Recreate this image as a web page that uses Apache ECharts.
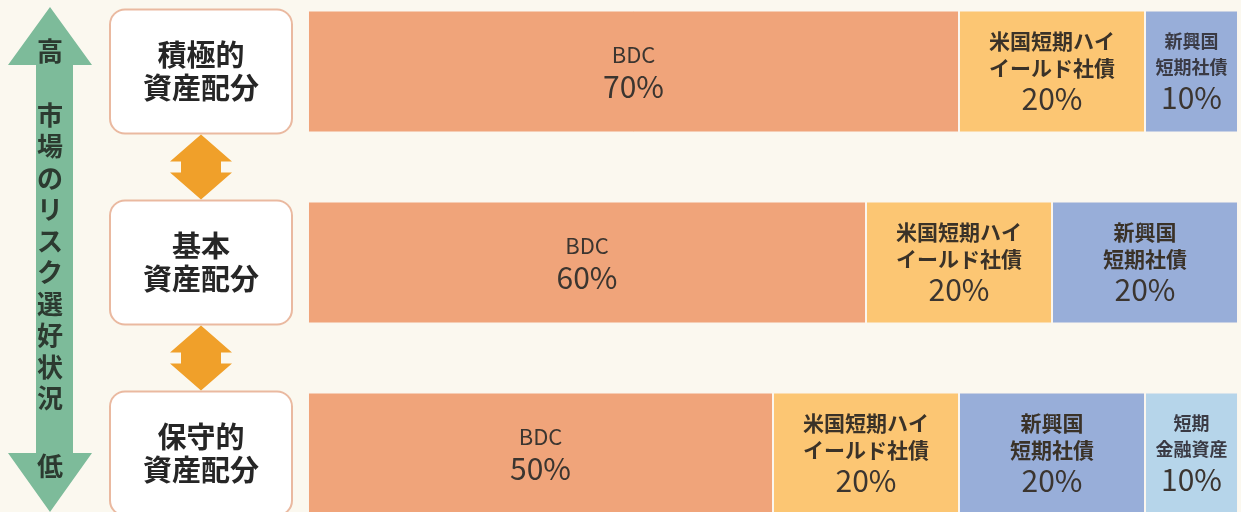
<!DOCTYPE html>
<html>
<head>
<meta charset="utf-8">
<script src="https://cdn.jsdelivr.net/npm/echarts@6/dist/echarts.min.js"></script>
<style>
  html, body { margin: 0; padding: 0; background: #fbf8ef; }
  #chart { width: 1241px; height: 512px; }
</style>
</head>
<body>
<div id="chart"></div>
<script>
// 資産配分パターン（上から積極的・基本・保守的）
const categories = ['積極的\n資産配分', '基本\n資産配分', '保守的\n資産配分']
const seriesNames = ['BDC', '米国短期ハイイールド社債', '新興国短期社債', '短期金融資産']
const segmentLabels = ['BDC', '米国短期ハイ\nイールド社債', '新興国\n短期社債', '短期\n金融資産']
const bdc = [70, 60, 50]
const usHighYield = [20, 20, 20]
const emShort = [10, 20, 20]
const shortTerm = [0, 0, 10]
const riskTop = '高'
const riskMid = '市場のリスク選好状況'
const riskBottom = '低'

const colors = ['#f0a47a', '#fcc673', '#98aed9', '#b6d5ea']
const textFont = '"Noto Sans CJK JP", "Noto Sans", sans-serif'
const bandPx = 191
const barPx = 122

const chart = echarts.init(document.getElementById('chart'))

function makeBar(idx, values) {
  return {
    name: seriesNames[idx],
    type: 'bar',
    stack: 'all',
    barWidth: barPx,
    data: values.map(v => ({
      value: v,
      label: { show: v > 0 }
    })),
    itemStyle: { color: colors[idx], borderColor: '#fbf6ee', borderWidth: 1 },
    label: {
      position: 'inside',
      fontFamily: textFont,
      formatter: p => {
        const small = p.value <= 10 ? 's' : 'n'
        const name = segmentLabels[idx].split('\n').map(l => '{' + (idx === 0 ? 'bdc' : 't' + small) + '|' + l + '}').join('\n')
        return name + '\n{pct|' + p.value + '%}'
      },
      rich: {
        bdc: { fontSize: 22, lineHeight: 30, color: '#3b3530', fontFamily: textFont },
        tn: { fontSize: 21, lineHeight: 27, fontWeight: 'bold', color: '#3a3228', fontFamily: textFont },
        ts: { fontSize: 18, lineHeight: 26, fontWeight: 'bold', color: '#3a3a44', fontFamily: textFont },
        pct: { fontSize: 30, lineHeight: 34, color: '#3b3530', fontFamily: textFont }
      }
    }
  }
}

// 枠の間の上下矢印
const arrowSeries = {
  type: 'custom',
  silent: true,
  clip: false,
  z: 5,
  data: [[0, 0], [0, 1]],
  renderItem: (params, api) => {
    const i = api.value(1)
    const a = api.coord([0, i])
    const b = api.coord([0, i + 1])
    const cx = a[0] - 107
    const top = a[1] + barPx / 2 + 2
    const bot = b[1] - barPx / 2 - 2
    const head = 27, hw = 31, sw = 20
    return {
      type: 'polygon',
      shape: {
        points: [
          [cx, top], [cx + hw, top + head], [cx + sw, top + head],
          [cx + sw, bot - head], [cx + hw, bot - head], [cx, bot],
          [cx - hw, bot - head], [cx - sw, bot - head], [cx - sw, top + head],
          [cx - hw, top + head]
        ]
      },
      style: { fill: '#f0a02a' }
    }
  }
}

chart.setOption({
  backgroundColor: '#fbf8ef',
  animation: false,
  grid: { left: 308, right: 3, top: -24, height: bandPx * 3, outerBoundsMode: 'none', containLabel: false },
  xAxis: { type: 'value', min: 0, max: 100, show: false },
  yAxis: {
    type: 'category',
    inverse: true,
    data: categories,
    axisLine: { show: false },
    axisTick: { show: false },
    axisLabel: {
      margin: 107,
      align: 'center',
      width: 180,
      padding: [28, 0, 28, 0],
      lineHeight: 33,
      fontSize: 29,
      fontWeight: 'bold',
      color: '#262626',
      fontFamily: textFont,
      backgroundColor: '#ffffff',
      borderColor: '#eab9a0',
      borderWidth: 2,
      borderRadius: 14
    }
  },
  graphic: [
    {
      type: 'polygon',
      silent: true,
      shape: {
        points: [[50, 7], [92, 65], [73, 65], [73, 453], [92, 453], [50, 512],
                 [8, 453], [36, 453], [36, 65], [8, 65]]
      },
      style: { fill: '#7dbb9a' }
    },
    {
      type: 'text', left: 37, top: 38,
      style: { text: riskTop, fontSize: 26, fontFamily: textFont, fontWeight: 'bold', fill: '#2c3a30' }
    },
    {
      type: 'text', left: 37, top: 99,
      style: {
        text: riskMid.split('').join('\n'), fontSize: 26, lineHeight: 31.5,
        fontFamily: textFont, fontWeight: 'bold', fill: '#2c3a30'
      }
    },
    {
      type: 'text', left: 37, top: 453,
      style: { text: riskBottom, fontSize: 26, fontFamily: textFont, fontWeight: 'bold', fill: '#2c3a30' }
    }
  ],
  series: [
    makeBar(0, bdc),
    makeBar(1, usHighYield),
    makeBar(2, emShort),
    makeBar(3, shortTerm),
    arrowSeries
  ]
})
</script>
</body>
</html>
